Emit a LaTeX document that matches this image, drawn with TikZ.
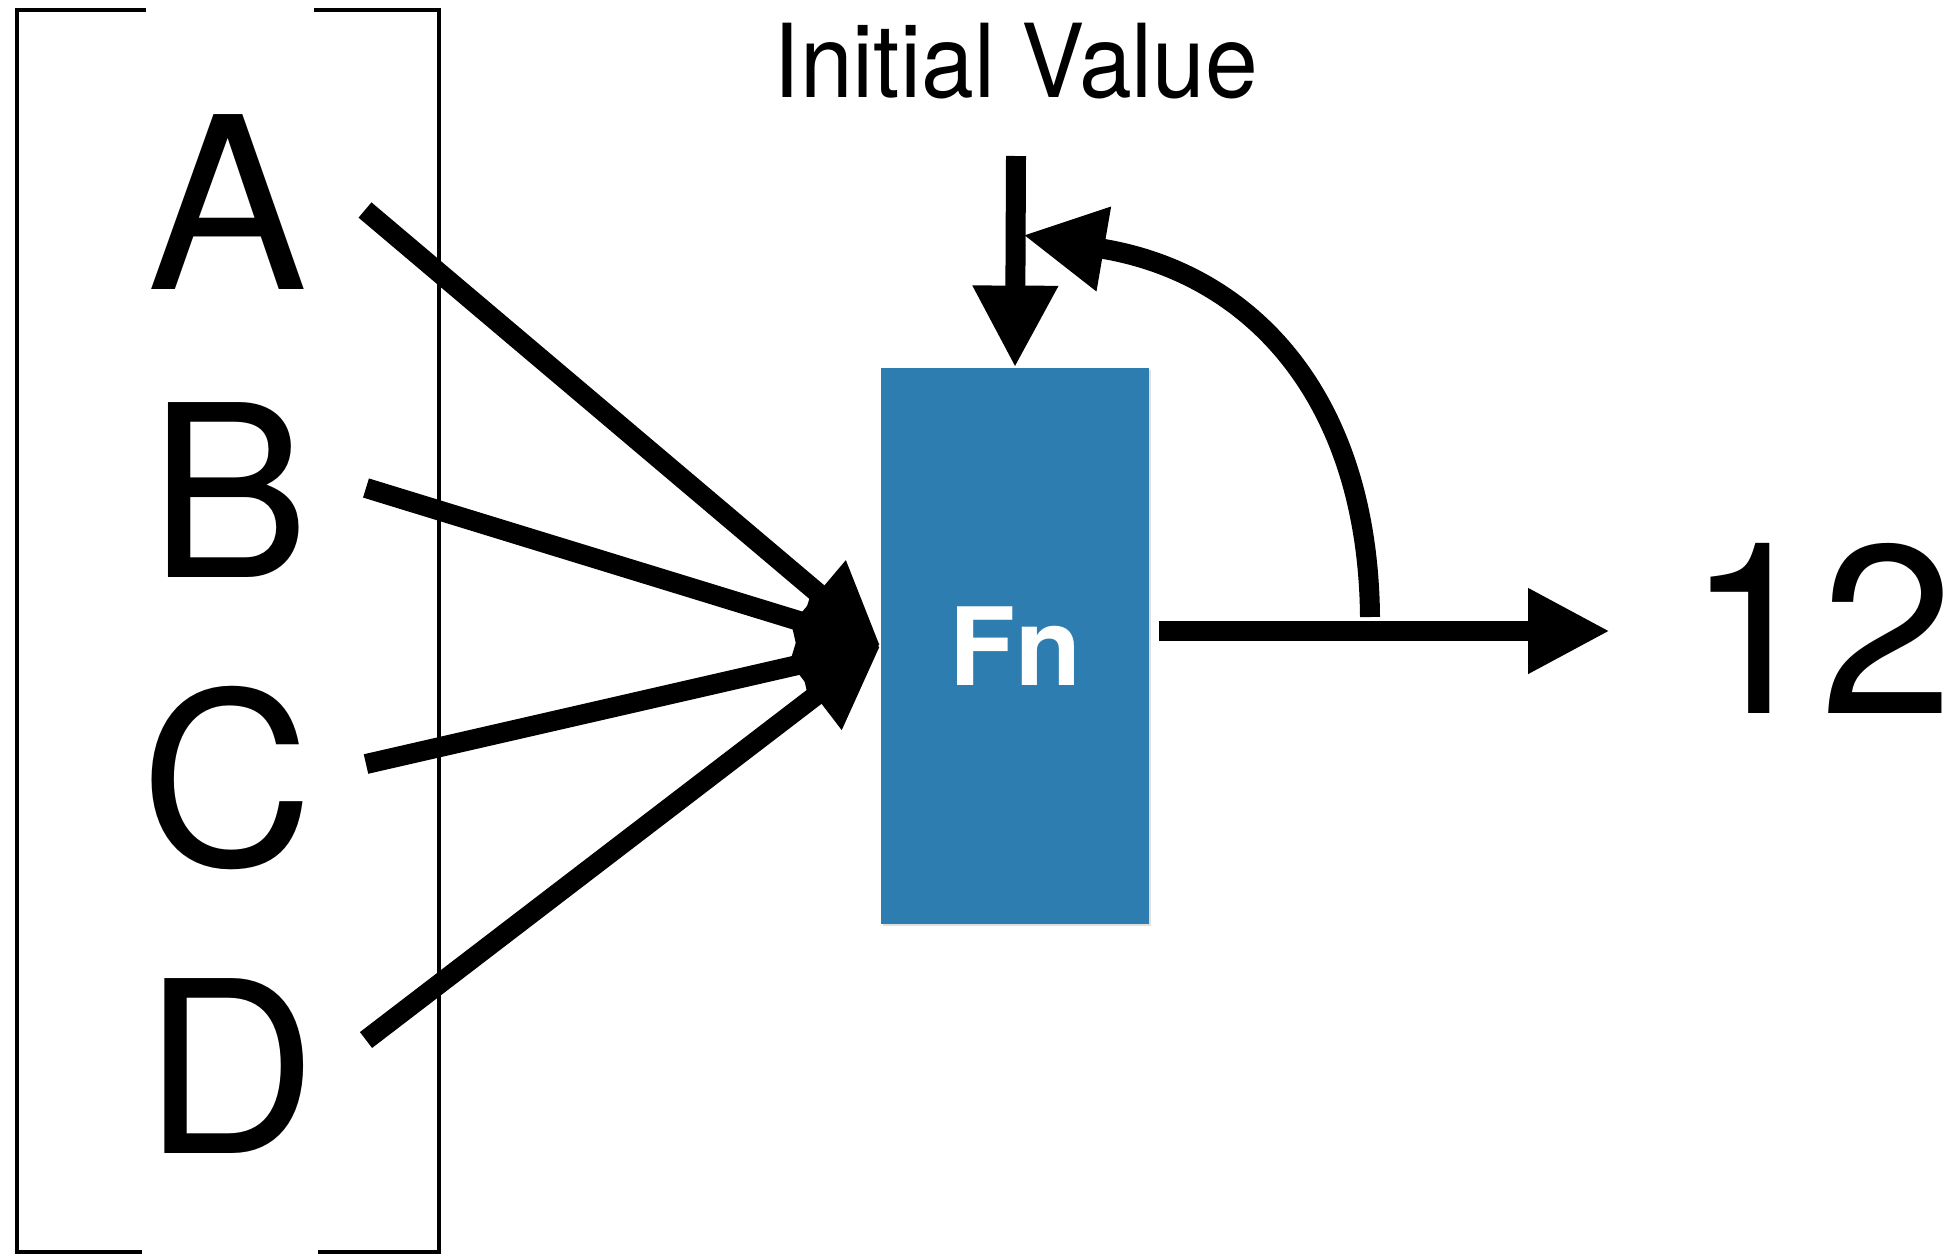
\documentclass[tikz,border=0pt]{standalone}
\usepackage{fontspec}
\setmainfont{TeX Gyre Heros}
\usetikzlibrary{arrows.meta}
\definecolor{fnblue}{RGB}{46,125,176}
\begin{document}
\begin{tikzpicture}[x=0.5pt,y=-0.5pt,
  conn/.style={line width=10pt,-{Triangle[length=41pt,width=40pt]}},
  bracketline/.style={line width=2.2pt},
  letter/.style={font=\fontsize{120}{120}\selectfont,inner sep=0pt,anchor=center},
  fnbox/.style={fill=fnblue,minimum width=134pt,minimum height=278pt,inner sep=0pt,
    font=\fontsize{54}{54}\selectfont\bfseries,text=white}
  ]
\useasboundingbox (0,0) rectangle (1952,1254);
% bracket
\draw[bracketline] (146,10) -- (17,10) -- (17,1252) -- (142,1252);
\draw[bracketline] (314,10) -- (439,10) -- (439,1252) -- (318,1252);
% letters
\node[letter] (A) at (228,202) {A};
\node[letter] (B) at (230,490) {B};
\node[letter] (C) at (227,778) {C};
\node[letter] (D) at (230,1066) {D};
% box
\fill[black!12] (883,370) rectangle (1151,926);
\node[fnbox] (fn) at (1015,646) {Fn};
% input arrow starts
\coordinate (a1) at (365,210);
\coordinate (b1) at (366,488);
\coordinate (c1) at (366,764);
\coordinate (d1) at (366,1040);
\draw[conn] (a1) -- (fn.west);
\draw[conn] (b1) -- (fn.west);
\draw[conn] (c1) -- (fn.west);
\draw[conn] (d1) -- (fn.west);
% initial value
\node[inner sep=0pt,font=\fontsize{51}{51}\selectfont,xscale=0.93] (init) at (1016,61) {Initial Value};
\coordinate (iv) at (1016,156);
\draw[conn] (iv) -- (fn.north);
% output
\node[letter] (out) at (1820,628) {12};
\coordinate (o1) at (1159,631);
\coordinate (o2) at (1610,631);
\draw[conn] (o1) -- (o2);
% feedback
\coordinate (fb) at (1370,617);
\coordinate (fbbase) at (1104,249);
\coordinate (fbtip) at (1023,235);
\draw[conn] (fb) .. controls (1368,400) and (1254,275) .. (fbbase) -- (fbtip);
\end{tikzpicture}
\end{document}
